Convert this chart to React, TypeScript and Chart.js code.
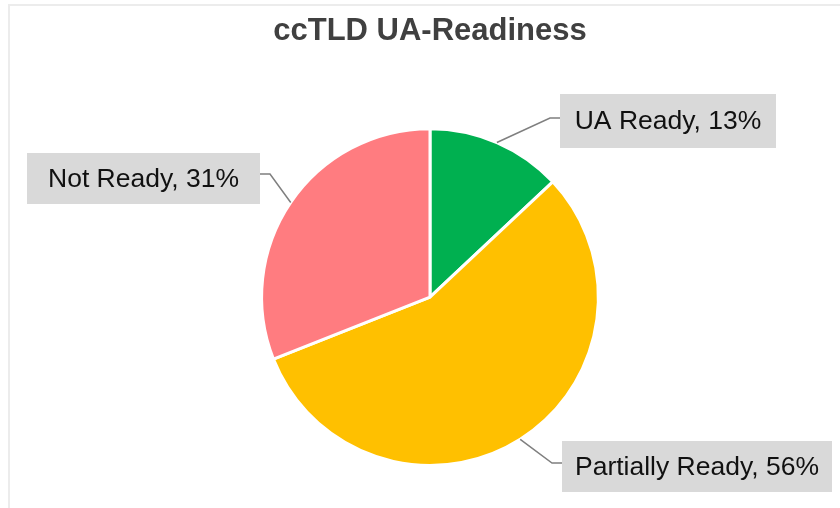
import React, { useEffect, useRef } from "react";
import { Chart, registerables } from "chart.js";

Chart.register(...registerables);

const categories = ["UA Ready", "Partially Ready", "Not Ready"];
const values = [13, 56, 31];
const colors = ["#00B050", "#FFC000", "#FF7C80"];
const titleText = "ccTLD UA-Readiness";

// label box layout and elbow point of the leader line
const labelBoxes = [
  { x: 560, y: 94, w: 216, h: 54, elbowX: 550, elbowY: 118, side: "left" },
  { x: 562, y: 441, w: 270, h: 51, elbowX: 552, elbowY: 463, side: "left" },
  { x: 27, y: 153, w: 233, h: 51, elbowX: 270, elbowY: 174, side: "right" },
];

const labelPlugin = {
  id: "labelPlugin",
  beforeDraw(chart: any) {
    const ctx = chart.ctx;
    ctx.save();
    ctx.fillStyle = "#ffffff";
    ctx.fillRect(0, 0, chart.width, chart.height);
    ctx.strokeStyle = "#ececec";
    ctx.lineWidth = 2;
    ctx.beginPath();
    ctx.moveTo(8, 5);
    ctx.lineTo(chart.width, 5);
    ctx.moveTo(9, 4);
    ctx.lineTo(9, chart.height);
    ctx.stroke();
    ctx.restore();
  },
  afterDatasetsDraw(chart: any) {
    const ctx = chart.ctx;
    const meta = chart.getDatasetMeta(0);
    const total = values.reduce((a, b) => a + b, 0);
    ctx.save();
    meta.data.forEach((arc: any, i: number) => {
      const box = labelBoxes[i];
      const mid = (arc.startAngle + arc.endAngle) / 2;
      const r = arc.outerRadius;
      const px = arc.x + Math.cos(mid) * r;
      const py = arc.y + Math.sin(mid) * r;
      const edgeX = box.side === "left" ? box.x : box.x + box.w;
      ctx.strokeStyle = "#7f7f7f";
      ctx.lineWidth = 1.5;
      ctx.beginPath();
      ctx.moveTo(px, py);
      ctx.lineTo(box.elbowX, box.elbowY);
      ctx.lineTo(edgeX, box.elbowY);
      ctx.stroke();
      ctx.fillStyle = "#d9d9d9";
      ctx.fillRect(box.x, box.y, box.w, box.h);
      ctx.fillStyle = "#111111";
      ctx.font = "26.5px 'Liberation Sans', Arial, sans-serif";
      ctx.textAlign = "center";
      ctx.textBaseline = "middle";
      const pct = Math.round((values[i] / total) * 100);
      ctx.fillText(`${categories[i]}, ${pct}%`, box.x + box.w / 2, box.y + box.h / 2 + 1);
    });
    ctx.restore();
  },
};

export default function App() {
  const ref = useRef<HTMLCanvasElement>(null);
  useEffect(() => {
    document.body.style.margin = "0";
    const chart = new Chart(ref.current!, {
      type: "pie",
      data: {
        labels: categories,
        datasets: [
          {
            data: values,
            backgroundColor: colors,
            borderColor: "#ffffff",
            borderWidth: 3,
          },
        ],
      },
      options: {
        responsive: false,
        animation: false,
        layout: { padding: { left: 20, right: 0, top: 0, bottom: 41 } },
        plugins: {
          legend: { display: false },
          tooltip: { enabled: false },
          title: {
            display: true,
            text: titleText,
            color: "#404040",
            font: { family: "'Liberation Sans', Arial, sans-serif", size: 31, weight: "bold" },
            padding: { top: 13, bottom: 77 },
          },
        },
      },
      plugins: [labelPlugin],
    });
    return () => chart.destroy();
  }, []);
  return (
    <div style={{ width: 840, height: 508 }}>
      <canvas ref={ref} width={840} height={508} />
    </div>
  );
}
